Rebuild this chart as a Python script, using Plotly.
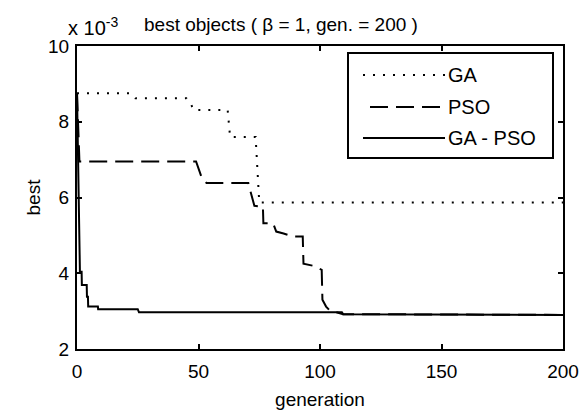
import plotly.graph_objects as go

# values in units of 1e-3
ga_gen = [0, 22, 24, 45, 47, 48, 62, 63, 73.5, 75, 200]
ga_best = [8.75, 8.75, 8.62, 8.62, 8.45, 8.31, 8.31, 7.6, 7.6, 5.87, 5.87]

pso_gen = [0, 1, 49, 51.3, 53.3, 70.5, 71, 73, 76.5, 76.7, 80.7, 82, 85, 89, 92.9, 93.2, 97, 100.7, 101, 102.5, 104, 109.5, 200]
pso_best = [8.75, 6.95, 6.95, 6.53, 6.38, 6.38, 6.25, 5.78, 5.76, 5.32, 5.32, 5.1, 5.05, 4.97, 4.97, 4.25, 4.2, 4.09, 3.3, 3.12, 3.02, 2.92, 2.90]

gapso_gen = [0, 1.2, 1.9, 2.0, 4.0, 4.1, 4.5, 4.6, 8.6, 8.7, 25, 25.5, 109, 109.5, 200]
gapso_best = [8.75, 4.04, 4.04, 3.69, 3.69, 3.38, 3.38, 3.12, 3.12, 3.05, 3.05, 2.97, 2.97, 2.92, 2.90]

series_names = ["GA", "PSO", "GA - PSO"]
x_ticks = [0, 50, 100, 150, 200]
y_ticks = [2, 4, 6, 8, 10]

FONT = "Liberation Sans, Arial, sans-serif"
W, H = 579, 412
L, R, T, B = 77, 16, 46, 63
PW, PH = W - L - R, H - T - B

def px(x):
    return (x - L) / PW

def py(y):
    return (H - B - y) / PH

fig = go.Figure()
styles = [("2px,8px", 2), ("18px,8px", 2), ("solid", 2)]
data = [(ga_gen, ga_best), (pso_gen, pso_best), (gapso_gen, gapso_best)]
for (xs, ys), name, (dash, w) in zip(data, series_names, styles):
    fig.add_trace(go.Scatter(x=xs, y=ys, mode="lines", name=name, showlegend=False,
                             line=dict(color="black", width=w, dash=dash)))

axis_common = dict(showline=True, linecolor="black", linewidth=2, mirror="allticks",
                   ticks="inside", ticklen=5, tickwidth=2, tickcolor="black",
                   showgrid=False, zeroline=False, automargin=False,
                   tickfont=dict(family=FONT, size=19, color="black"))
fig.update_xaxes(range=[0, 200], tickvals=x_ticks, ticktext=[str(v) for v in x_ticks],
                 ticklabelstandoff=4,
                 title=dict(text="generation", font=dict(family=FONT, size=19, color="black"), standoff=12),
                 **axis_common)
fig.update_yaxes(range=[2, 10], tickvals=y_ticks, ticktext=[str(v) for v in y_ticks],
                 ticklabelstandoff=2,
                 title=dict(text="best", font=dict(family=FONT, size=19, color="black"), standoff=2),
                 **axis_common)

# custom legend
shapes = [dict(type="rect", xref="paper", yref="paper", x0=px(348), x1=px(553), y0=py(158), y1=py(53),
               line=dict(color="black", width=2), fillcolor="white", layer="above")]
leg_y = [75, 107, 138]
leg_x0 = [363, 370, 363]
annotations = []
for name, (dash, w), ly, lx0 in zip(series_names, styles, leg_y, leg_x0):
    shapes.append(dict(type="line", xref="paper", yref="paper", x0=px(lx0), x1=px(445), y0=py(ly), y1=py(ly),
                       line=dict(color="black", width=w, dash=dash), layer="above"))
    annotations.append(dict(xref="paper", yref="paper", x=px(446), y=py(ly), xanchor="left", yanchor="middle",
                            text=name, showarrow=False, font=dict(family=FONT, size=20, color="black")))

annotations.append(dict(xref="paper", yref="paper", x=px(281), y=1, xanchor="center", yanchor="bottom",
                        yshift=9, text="best objects ( β = 1, gen. = 200 )", showarrow=False,
                        font=dict(family=FONT, size=19, color="black")))
annotations.append(dict(xref="paper", yref="paper", x=px(66), y=1, xanchor="left", yanchor="bottom",
                        yshift=5, text="x 10<sup>-3</sup>", showarrow=False,
                        font=dict(family=FONT, size=20, color="black")))

fig.update_layout(width=W, height=H, margin=dict(l=L, r=R, t=T, b=B),
                  paper_bgcolor="white", plot_bgcolor="white",
                  shapes=shapes, annotations=annotations, showlegend=False)

fig.write_html("out.html")
